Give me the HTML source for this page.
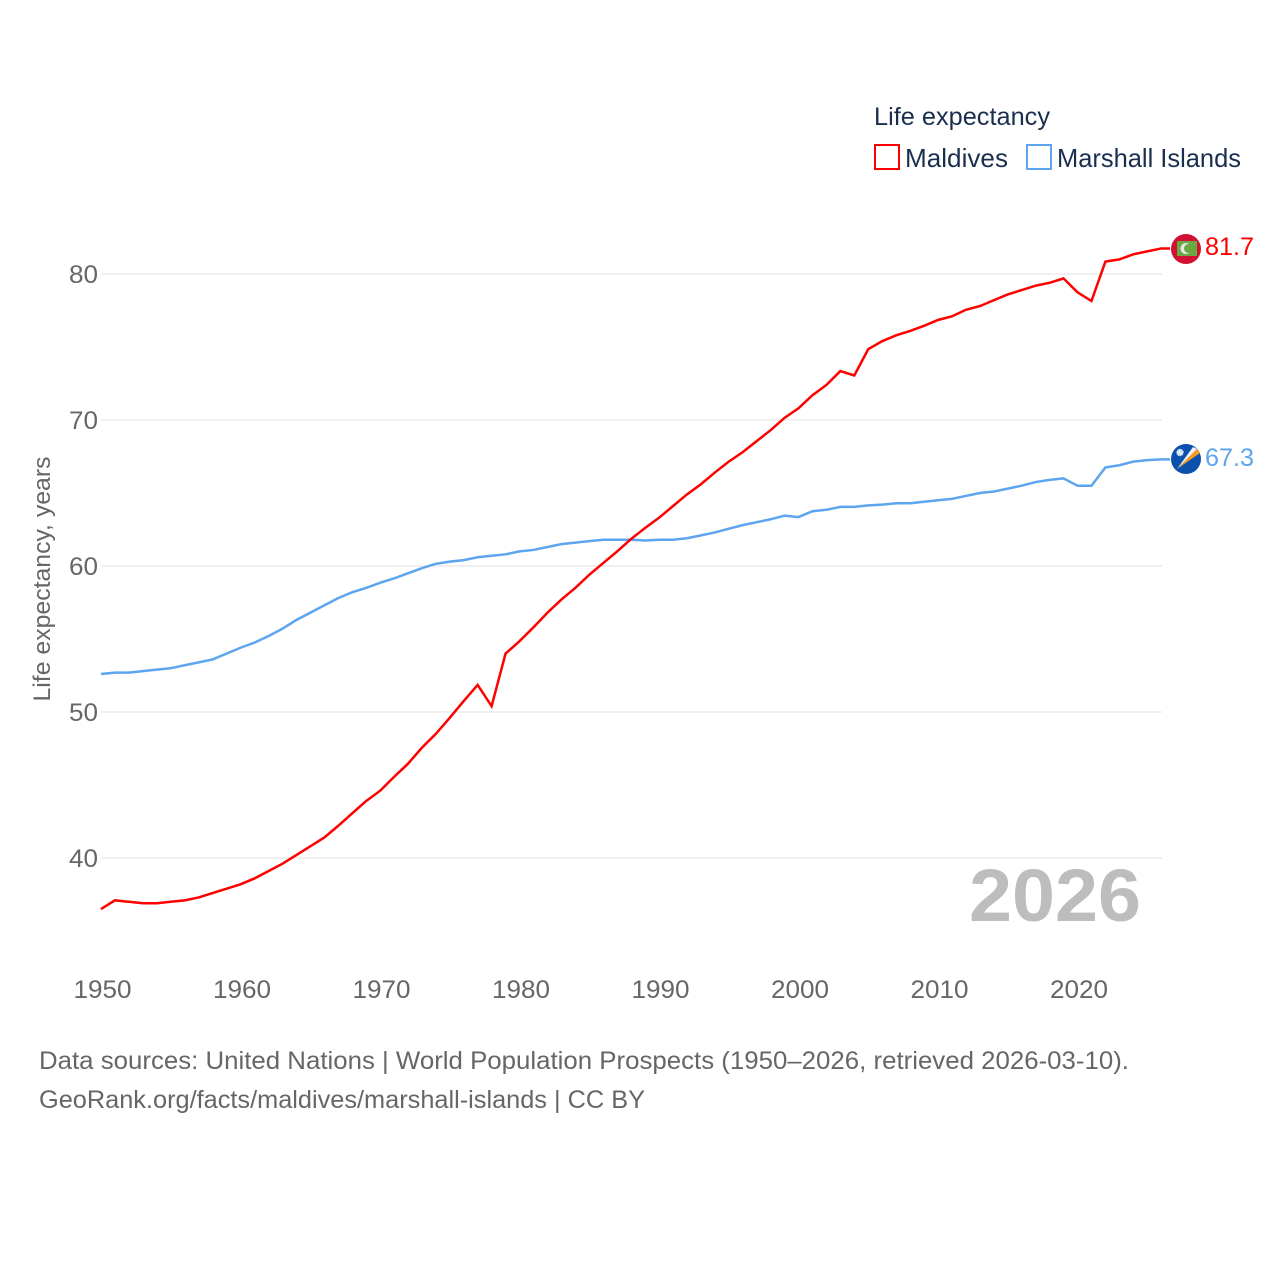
<!DOCTYPE html>
<html lang="en">
<head>
<meta charset="utf-8">
<title>Life expectancy: Maldives and Marshall Islands</title>
<style>
  html, body { margin: 0; padding: 0; background: #fff; }
  svg { display: block; font-family: "Liberation Sans", sans-serif; }
</style>
</head>
<body>
<svg id="chart" width="1280" height="1280" viewBox="0 0 1280 1280" xmlns="http://www.w3.org/2000/svg">
  <rect width="1280" height="1280" fill="#ffffff"/>
  <g id="grid"></g>
  <g id="y-ticks"></g>
  <g id="x-ticks"></g>
  <text transform="translate(50,579) rotate(-90)" text-anchor="middle" font-size="24" fill="#666666" textLength="245" lengthAdjust="spacingAndGlyphs">Life expectancy, years</text>
  <text x="1141" y="921" text-anchor="end" font-size="74" font-weight="700" fill="#bdbdbd" textLength="172" lengthAdjust="spacingAndGlyphs">2026</text>
  <g id="series"></g>
  <g>
    <text x="874" y="125" font-size="25" fill="#1a2f4f" textLength="176" lengthAdjust="spacingAndGlyphs">Life expectancy</text>
    <rect x="875" y="145" width="24" height="24" fill="none" stroke="#ff0000" stroke-width="2"/>
    <text x="905" y="167" font-size="26" fill="#1a2f4f" textLength="103" lengthAdjust="spacingAndGlyphs">Maldives</text>
    <rect x="1027" y="145" width="24" height="24" fill="none" stroke="#5da5ee" stroke-width="2"/>
    <text x="1057" y="167" font-size="26" fill="#1a2f4f" textLength="184" lengthAdjust="spacingAndGlyphs">Marshall Islands</text>
  </g>
  <g>
    <circle cx="1186" cy="249" r="15" fill="#d21034"/>
    <rect x="1177" y="241" width="20" height="15" fill="#6aa842"/>
    <circle cx="1186" cy="248.5" r="5.5" fill="#e6e6e6"/>
    <circle cx="1188.5" cy="248.5" r="4.5" fill="#6aa842"/>
  </g>
  <g>
    <circle cx="1186" cy="459" r="15" fill="#0b50ad"/>
    <polygon points="1177,469 1197,449 1200,453" fill="#f79a1e"/>
    <polygon points="1177,469 1193,447 1197,449" fill="#f2f2f2"/>
    <circle cx="1180" cy="452.5" r="3.2" fill="#dfe8f5" stroke="#dfe8f5" stroke-width="1.2" stroke-dasharray="1 1"/>
  </g>
  <text x="1205" y="255" font-size="25" fill="#ff0000" textLength="49" lengthAdjust="spacingAndGlyphs">81.7</text>
  <text x="1205" y="466" font-size="25" fill="#5da5ee" textLength="49" lengthAdjust="spacingAndGlyphs">67.3</text>
  <text x="39" y="1069" font-size="25" fill="#666666" textLength="1090" lengthAdjust="spacingAndGlyphs">Data sources: United Nations | World Population Prospects (1950–2026, retrieved 2026-03-10).</text>
  <text x="39" y="1108" font-size="25" fill="#666666" textLength="606" lengthAdjust="spacingAndGlyphs">GeoRank.org/facts/maldives/marshall-islands | CC BY</text>
</svg>
<script>
const startYear = 1950;
const yTickValues = [40, 50, 60, 70, 80];
const xTickYears = [1950, 1960, 1970, 1980, 1990, 2000, 2010, 2020];
const maldivesValues = [
  36.5, 37.1, 37.0, 36.9, 36.9, 37.0, 37.1, 37.3, 37.6, 37.9,
  38.2, 38.6, 39.1, 39.6, 40.2, 40.8, 41.4, 42.2, 43.05, 43.9,
  44.6, 45.55, 46.45, 47.55, 48.5, 49.6, 50.75, 51.85, 50.4, 54.0,
  54.85, 55.8, 56.8, 57.7, 58.5, 59.4, 60.2, 61.0, 61.85, 62.6,
  63.3, 64.1, 64.9, 65.6, 66.4, 67.15, 67.8, 68.55, 69.3, 70.15,
  70.8, 71.7, 72.4, 73.35, 73.05, 74.85, 75.4, 75.8, 76.1, 76.45,
  76.85, 77.1, 77.55, 77.8, 78.2, 78.6, 78.9, 79.2, 79.4, 79.7,
  78.75, 78.15, 80.85, 81.0, 81.35, 81.55, 81.75
];
const marshallValues = [
  52.6, 52.7, 52.7, 52.8, 52.9, 53.0, 53.2, 53.4, 53.6, 54.0,
  54.4, 54.75, 55.2, 55.7, 56.3, 56.8, 57.3, 57.8, 58.2, 58.5,
  58.85, 59.15, 59.5, 59.85, 60.15, 60.3, 60.4, 60.6, 60.7, 60.8,
  61.0, 61.1, 61.3, 61.5, 61.6, 61.7, 61.8, 61.8, 61.8, 61.75,
  61.8, 61.8, 61.9, 62.1, 62.3, 62.55, 62.8, 63.0, 63.2, 63.45,
  63.35, 63.75, 63.85, 64.05, 64.05, 64.15, 64.2, 64.3, 64.3, 64.4,
  64.5, 64.6, 64.8, 65.0, 65.1, 65.3, 65.5, 65.75, 65.9, 66.0,
  65.5, 65.5, 66.75, 66.9, 67.15, 67.25, 67.3
];

const NS = 'http://www.w3.org/2000/svg';
const xScale = year => 101 + (year - 1950) * 13.95;
const yScale = value => 274 + (80 - value) * 14.6;

const gridGroup = document.getElementById('grid');
const yTickGroup = document.getElementById('y-ticks');
const xTickGroup = document.getElementById('x-ticks');
const seriesGroup = document.getElementById('series');

yTickValues.forEach(value => {
  const line = document.createElementNS(NS, 'line');
  
  
  line.setAttribute('x1', 101);
  line.setAttribute('x2', 1162);
  line.setAttribute('y1', yScale(value));
  line.setAttribute('y2', yScale(value));
  line.setAttribute('stroke', '#e8e8e8');
  line.setAttribute('stroke-width', 1.2);
  gridGroup.appendChild(line);

  const label = document.createElementNS(NS, 'text');
  
  
  label.setAttribute('x', 98);
  label.setAttribute('y', yScale(value) + 9);
  label.setAttribute('text-anchor', 'end');
  label.setAttribute('font-size', 25);
  label.setAttribute('fill', '#666666');
  label.setAttribute('textLength', 29);
  label.setAttribute('lengthAdjust', 'spacingAndGlyphs');
  label.textContent = value;
  yTickGroup.appendChild(label);
});

xTickYears.forEach(year => {
  const label = document.createElementNS(NS, 'text');
  
  
  label.setAttribute('x', xScale(year) + 1.5);
  label.setAttribute('y', 998);
  label.setAttribute('text-anchor', 'middle');
  label.setAttribute('font-size', 25);
  label.setAttribute('fill', '#666666');
  label.setAttribute('textLength', 58);
  label.setAttribute('lengthAdjust', 'spacingAndGlyphs');
  label.textContent = year;
  xTickGroup.appendChild(label);
});

function drawSeries(values, color, name) {
  const pts = values.map((v, i) => xScale(startYear + i).toFixed(2) + ',' + yScale(v).toFixed(2));
  const lastY = yScale(values[values.length - 1]).toFixed(2);
  pts.push('1170,' + lastY);
  const path = document.createElementNS(NS, 'polyline');
  
  
  path.setAttribute('points', pts.join(' '));
  path.setAttribute('fill', 'none');
  path.setAttribute('stroke', color);
  path.setAttribute('stroke-width', 2.5);
  path.setAttribute('stroke-linejoin', 'miter');
  seriesGroup.appendChild(path);
}
drawSeries(marshallValues, '#5da5ee', 'series-line-marshall-islands');
drawSeries(maldivesValues, '#ff0000', 'series-line-maldives');
</script>
</body>
</html>
